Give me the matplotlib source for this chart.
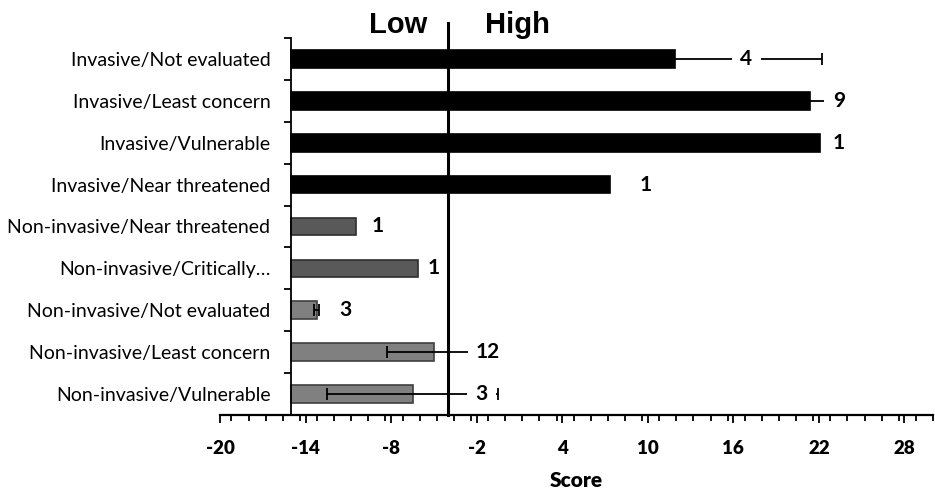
import matplotlib
matplotlib.use("Agg")
import matplotlib.pyplot as plt
import matplotlib.transforms as mtransforms
from matplotlib.ticker import MultipleLocator, FixedLocator
import numpy as np

plt.rcParams["axes.unicode_minus"] = False

categories = [
    "Invasive/Not evaluated",
    "Invasive/Least concern",
    "Invasive/Vulnerable",
    "Invasive/Near threatened",
    "Non-invasive/Near threatened",
    "Non-invasive/Critically…",
    "Non-invasive/Not evaluated",
    "Non-invasive/Least concern",
    "Non-invasive/Vulnerable",
]
scores = [11.9, 21.35, 22.05, 7.33, -10.47, -6.08, -13.22, -5.0, -6.5]
errors = [10.3, 1.4, 0.0, 0.0, 0.0, 0.0, 0.18, 3.32, 6.0]
n_labels = ["4", "9", "1", "1", "1", "1", "3", "12", "3"]
label_x = [16.9, 23.4, 23.4, 9.85, -8.95, -5.05, -11.2, -1.2, -1.65]
groups = ["inv", "inv", "inv", "inv", "ni_dark", "ni_dark", "ni_mid", "ni_mid", "ni_mid"]

x_base = -15
x_min, x_max = -20, 30
divider = -4

face = {"inv": "#000000", "ni_dark": "#595959", "ni_mid": "#808080"}
edge = {"inv": "#000000", "ni_dark": "#2e2e2e", "ni_mid": "#3f3f3f"}

fig = plt.figure(figsize=(9.35, 4.92), dpi=100)
ax = fig.add_axes([220 / 935, 1 - 415 / 492, 713 / 935, 377 / 492])

y = np.arange(len(categories))
vals = np.array(scores)
errs = np.array(errors)

ax.barh(y, vals - x_base, left=x_base, height=0.42,
        color=[face[g] for g in groups], edgecolor=[edge[g] for g in groups],
        linewidth=1.2, zorder=2)

mask = errs > 0
ax.errorbar(vals[mask], y[mask], xerr=errs[mask], fmt="none", ecolor="black",
            elinewidth=1.3, capsize=4.6, capthick=1.3, zorder=3)

for yi, lx, t in zip(y, label_x, n_labels):
    ax.text(lx, yi, t, ha="center", va="center", fontsize=15, fontweight="bold",
            family="Lato", color="black", zorder=5,
            bbox=dict(boxstyle="square,pad=0.4", fc="white", ec="none"))

ax.axvline(divider, ymin=0, ymax=1.04, color="black", lw=2.2, clip_on=False, zorder=6)

trans = mtransforms.blended_transform_factory(ax.transData, ax.transAxes)
ax.text(-7.53, 1.013, "Low", transform=trans, ha="center", va="baseline",
        fontsize=21, fontweight="bold", family="Liberation Sans")
ax.text(0.85, 1.013, "High", transform=trans, ha="center", va="baseline",
        fontsize=21, fontweight="bold", family="Liberation Sans")

ax.set_xlim(x_min, x_max)
ax.set_ylim(len(categories) - 0.5, -0.5)

# x axis
ax.xaxis.set_minor_locator(MultipleLocator(1.2))
ax.set_xticks(np.arange(-20, 29, 6))
ax.tick_params(axis="x", which="major", length=6, width=1.3, pad=12, labelsize=13.5)
ax.tick_params(axis="x", which="minor", length=4.5, width=1.3)
for lab in ax.get_xticklabels():
    lab.set_fontfamily("Lato")
    lab.set_fontweight("heavy")
ax.set_xlabel("Score", fontsize=15, fontweight="heavy", family="Lato", labelpad=10)

# y axis
ax.spines["left"].set_position(("data", x_base))
ax.yaxis.set_major_locator(FixedLocator(np.arange(-0.5, len(categories), 1.0)))
ax.yaxis.set_major_formatter(plt.NullFormatter())
ax.yaxis.set_minor_locator(FixedLocator(y))
ax.set_yticklabels(categories, minor=True)
ax.tick_params(axis="y", which="major", length=5, width=1.3, direction="out")
ax.tick_params(axis="y", which="minor", length=0, pad=15, labelsize=14)
for lab in ax.get_yticklabels(minor=True):
    lab.set_fontfamily("Lato")

for s in ["top", "right"]:
    ax.spines[s].set_visible(False)
ax.spines["left"].set_linewidth(1.3)
ax.spines["bottom"].set_linewidth(1.6)

fig.savefig("out.png", dpi=100)
